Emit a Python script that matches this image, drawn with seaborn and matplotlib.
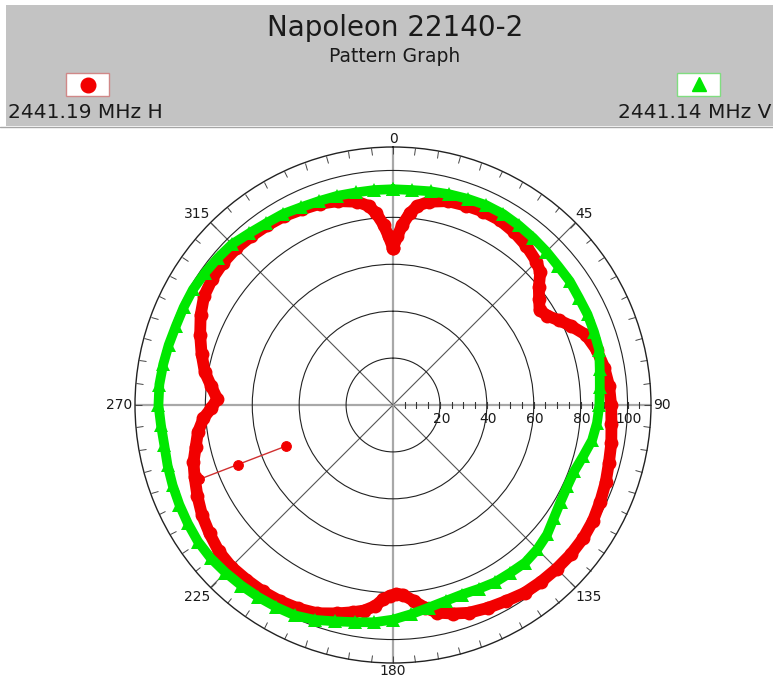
import numpy as np
import pandas as pd
import matplotlib
matplotlib.use("Agg")
import matplotlib.pyplot as plt
from matplotlib.patches import Rectangle
from matplotlib.lines import Line2D
import seaborn as sns

# pattern readings, degrees clockwise from 0 at the top
h_angle = [0, 1.5, 3, 5, 7, 10, 15, 20, 25, 30, 35, 40, 45, 48, 51, 54, 57, 60,
           63, 66, 70, 75, 80, 85, 90, 95, 100, 105, 110, 115, 120, 125, 130,
           135, 140, 145, 150, 155, 160, 164, 168, 171, 174, 177, 179, 181, 183,
           185, 188, 191, 195, 200, 205, 210, 215, 220, 225, 230, 235, 240, 245,
           250, 254, 258, 262, 266, 269, 272, 276, 280, 285, 290, 295, 300, 305,
           310, 315, 320, 325, 330, 335, 340, 345, 350, 353, 355, 357, 358.5]
h_level = [67, 72, 77, 82, 85.5, 88, 90, 90.5, 91, 91, 90, 88.5, 86.5, 84.5, 80,
           77, 74.5, 76, 79.5, 83, 87.5, 90, 91.5, 92.5, 93, 93.5, 94.5, 95.3,
           96.5, 97.5, 98.5, 99, 99, 98.7, 98.3, 97.8, 96.5, 95.5, 94.3, 92.5,
           90.5, 87.5, 84, 81, 80.5, 81.5, 83, 86, 88.5, 90, 92, 94.5, 95.7,
           96.5, 97, 97.2, 97.5, 97, 95.5, 94, 92, 90, 88.5, 86, 84, 81, 77.5,
           75, 78, 81.5, 84.5, 87.5, 90.5, 93, 94, 94.5, 94.5, 94, 93.5, 93, 92,
           91.3, 90, 88, 85.5, 82, 77, 72]

v_angle = [0, 5, 10, 15, 20, 25, 30, 35, 40, 45, 50, 55, 60, 65, 70, 75, 80, 85,
           90, 95, 100, 105, 110, 115, 120, 125, 130, 135, 140, 145, 150, 155,
           160, 165, 170, 175, 180, 185, 190, 195, 200, 205, 210, 215, 220, 225,
           230, 235, 240, 245, 250, 255, 260, 265, 270, 275, 280, 285, 290, 295,
           300, 305, 310, 315, 320, 325, 330, 335, 340, 345, 350, 355]
v_level = [92, 92, 92.5, 93, 93.5, 94, 94, 93.5, 93, 92.5, 92, 92, 91.5, 91.5,
           91.2, 91, 89.5, 88.5, 88, 87.3, 86.2, 84, 82.3, 82, 82.5, 83.8, 85.8,
           87, 87.7, 87.3, 87.2, 86.5, 86, 86.5, 87.7, 89.5, 91.5, 93, 94, 95.5,
           97.5, 99, 99.5, 100, 100.5, 101, 101.5, 101.5, 101, 100.5, 100, 99.5,
           99, 99.3, 100, 100, 99.5, 99, 98.5, 98.5, 98.5, 98, 97.5, 97, 95.5,
           94.5, 94, 93, 92.5, 92.3, 92, 92]

# first samples of the H sweep
h_start_angle = [249, 249, 249]
h_start_level = [49, 71, 88.5]

ring_values = [20, 40, 60, 80, 100]
angle_labels = [0, 45, 90, 135, 180, 225, 270, 315]

W, H = 773, 684
RED = "#f20000"
GREEN = "#00e800"

sns.set_style("white")
plt.rcParams["font.family"] = ["DejaVu Sans"]
plt.rcParams["text.color"] = "#1a1a1a"

fig = plt.figure(figsize=(W / 100, H / 100), dpi=100)


def fx(px):
    return px / W


def fy(py):
    return 1 - py / H


# header band
fig.add_artist(Rectangle((fx(6), fy(126)), 1 - fx(6), fy(5) - fy(126),
                         transform=fig.transFigure, facecolor="#c3c3c3",
                         edgecolor="none", zorder=0))
fig.add_artist(Line2D([0, 1], [fy(126.5)] * 2, transform=fig.transFigure,
                      color="#a5a5a5", lw=1))
fig.text(fx(395), fy(28), "Napoleon 22140-2", ha="center", va="center", fontsize=20)
fig.text(fx(395), fy(57), "Pattern Graph", ha="center", va="center", fontsize=13.5)

# legend boxes
fig.add_artist(Rectangle((fx(66), fy(96)), 43 / W, 23 / H, transform=fig.transFigure,
                         facecolor="white", edgecolor="#d08888", lw=1))
fig.add_artist(Line2D([fx(87.5)], [fy(84.5)], transform=fig.transFigure,
                      marker="o", ms=10.5, color=RED, ls="none"))
fig.text(fx(8), fy(112), "2441.19 MHz H", ha="left", va="center", fontsize=14.5)

fig.add_artist(Rectangle((fx(677), fy(96)), 43 / W, 23 / H, transform=fig.transFigure,
                         facecolor="white", edgecolor="#80dd80", lw=1))
fig.add_artist(Line2D([fx(698.5)], [fy(83.5)], transform=fig.transFigure,
                      marker="^", ms=10.5, color=GREEN, ls="none"))
fig.text(fx(771), fy(112), "2441.14 MHz V", ha="right", va="center", fontsize=14.5)

# polar plot
ax = fig.add_axes([fx(393 - 258), fy(405 + 258), 516 / W, 516 / H], projection="polar")
ax.set_theta_zero_location("N")
ax.set_theta_direction(-1)

df_h = pd.DataFrame({"theta": np.deg2rad(h_angle + [h_angle[0] + 360]),
                     "level": h_level + [h_level[0]]})
df_v = pd.DataFrame({"theta": np.deg2rad(v_angle + [v_angle[0] + 360]),
                     "level": v_level + [v_level[0]]})
df_start = pd.DataFrame({"theta": np.deg2rad(h_start_angle), "level": h_start_level})

sns.lineplot(data=df_h, x="theta", y="level", sort=False, estimator=None, ax=ax,
             color=RED, lw=8.5, marker="o", ms=10, mew=0, solid_joinstyle="round", zorder=3)
sns.lineplot(data=df_start, x="theta", y="level", sort=False, estimator=None, ax=ax,
             color="#d03030", lw=1, marker="o", ms=7, mfc=RED, mec=RED, zorder=3)
sns.lineplot(data=df_v, x="theta", y="level", sort=False, estimator=None, ax=ax,
             color=GREEN, lw=7, marker="^", ms=10, mew=0, solid_joinstyle="round", zorder=4)

ax.set_ylim(0, 110)
ax.set_xlabel("")
ax.set_ylabel("")
ax.set_xticks(np.deg2rad(angle_labels))
ax.set_xticklabels([])
ax.set_xticks(np.deg2rad(np.arange(0, 360, 5)), minor=True)
ax.set_yticks(ring_values)
ax.set_yticklabels([])
ax.yaxis.grid(True, color="#222222", lw=0.8)
ax.xaxis.grid(True, which="major", color="#555555", lw=0.8)
for a, tick in zip(angle_labels, ax.xaxis.get_major_ticks()):
    if a % 90 == 0:
        tick.gridline.set_color("#a8a8a8")
        tick.gridline.set_linewidth(1.6)
# outer-ring ticks (tick2 sits on the outer circle of a polar axes)
ax.tick_params(axis="x", which="both", bottom=False, top=True, direction="in",
               length=5, width=0.7, color="#444444")
ax.tick_params(axis="y", length=0)
ax.spines["polar"].set_color("#222222")
ax.spines["polar"].set_linewidth(1)

# small ticks along the 90 degree radius
r_ticks = np.arange(5, 110, 5)
ax.plot(np.full(len(r_ticks), np.pi / 2), r_ticks, ls="none", marker="|", ms=4.5,
        mew=0.8, color="#333333", zorder=2)
for v in ring_values:
    ax.annotate(str(v), xy=(np.pi / 2, v), xytext=(1, -5), textcoords="offset points",
                ha="center", va="top", fontsize=10)

label_pos = {0: ("center", "baseline", 0, 3), 45: ("left", "baseline", 0, 3),
             90: ("left", "center", 1.5, 0), 135: ("left", "top", 0, -1.5),
             180: ("center", "top", 0, -1), 225: ("right", "top", 0, -1.5),
             270: ("right", "center", -2, 0), 315: ("right", "baseline", 0, 3)}
for a in angle_labels:
    ha, va, dx, dy = label_pos[a]
    ax.annotate(str(a), xy=(np.deg2rad(a), 110), xytext=(dx, dy),
                textcoords="offset points", ha=ha, va=va, fontsize=10,
                annotation_clip=False)

fig.savefig("out.png", dpi=100)
